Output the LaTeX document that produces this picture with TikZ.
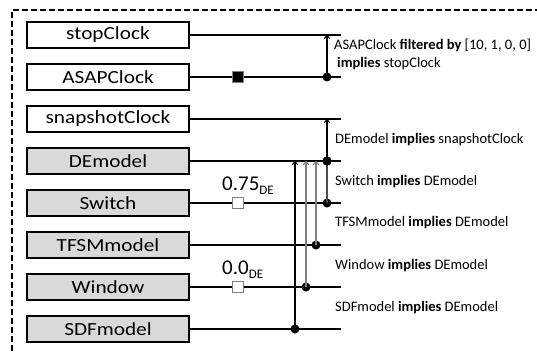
\documentclass[tikz,border=0pt]{standalone}
\usepackage{fontspec}
\setmainfont{Carlito}
\newfontfamily\boxfont{Carlito}[FakeStretch=1.15]
\usetikzlibrary{arrows.meta}
\begin{document}
\begin{tikzpicture}[x=1pt,y=-1pt,
 blk/.style={draw, line width=1.4pt, minimum width=162pt, minimum height=26pt, inner sep=0pt, font=\boxfont\fontsize{18.5}{20}\selectfont},
 wbox/.style={blk, fill=white},
 gbox/.style={blk, fill=gray!30},
 wire/.style={line width=1.2pt},
 dotn/.style={circle, fill=black, inner sep=0pt, minimum size=9pt},
 imp/.style={line width=1.1pt, -{To[length=4pt,width=6pt]}},
 lab/.style={anchor=west, font=\fontsize{14.5}{18}\selectfont, inner sep=0pt, align=left},
 wlab/.style={anchor=base west, inner sep=0pt, font=\fontsize{21}{22}\selectfont},
 wsq/.style={draw=gray, fill=white, line width=1.4pt, minimum size=11pt, inner sep=0pt},
 fsq/.style={draw=gray, fill=black, line width=1.4pt, minimum size=11pt, inner sep=0pt},
]
\useasboundingbox (0,0) rectangle (537,351);
\draw[dash pattern=on 6pt off 3pt, line width=1.3pt] (12,351) -- (12,10) -- (537,10);
% boxes
\node[wbox] (stop) at (108,35) {stopClock};
\node[wbox] (asap) at (108,77) {ASAPClock};
\node[wbox] (snap) at (108,119) {snapshotClock};
\node[gbox] (de) at (108,161) {DEmodel};
\node[gbox] (sw) at (108,203) {Switch};
\node[gbox] (tfsm) at (108,245) {TFSMmodel};
\node[gbox] (win) at (108,287) {Window};
\node[gbox] (sdf) at (108,329) {SDFmodel};
% wire ends
\coordinate (stopE) at (341,35);
\coordinate (asapE) at (341,77);
\coordinate (snapE) at (341,119);
\coordinate (deE) at (341,161);
\coordinate (swE) at (341,203);
\coordinate (tfsmE) at (341,245);
\coordinate (winE) at (341,287);
\coordinate (sdfE) at (341,329);
\draw[wire] (stop.east) -- (stopE);
\draw[wire] (asap.east) -- (asapE);
\draw[wire] (snap.east) -- (snapE);
\draw[wire] (de.east) -- (deE);
\draw[wire] (sw.east) -- (swE);
\draw[wire] (tfsm.east) -- (tfsmE);
\draw[wire] (win.east) -- (winE);
\draw[wire] (sdf.east) -- (sdfE);
% filters
\node[fsq] (fasap) at (238,77) {};
\node[wsq] (fsw) at (238,203) {};
\node[wsq] (fwin) at (238,287) {};
\node[wlab] (wsw) at (222,190) {0.75\raisebox{-4pt}{\fontsize{13}{13}\selectfont DE}};
\node[wlab] (wwin) at (222,274) {0.0\raisebox{-4pt}{\fontsize{13}{13}\selectfont DE}};
% targets
\coordinate (t1) at (327,35);
\coordinate (t2) at (327,119);
\coordinate (t3) at (327,161);
\coordinate (t4) at (316,161);
\coordinate (t5) at (306,161);
\coordinate (t6) at (295,161);
% dots
\node[dotn] (d1) at (327,77) {};
\node[dotn] (d2) at (327,161) {};
\node[dotn] (d3) at (327,203) {};
\node[dotn] (d4) at (316,245) {};
\node[dotn] (d5) at (306,287) {};
\node[dotn] (d6) at (295,329) {};
% arrows
\draw[imp] (d1.center) -- (t1);
\draw[imp] (d2.center) -- (t2);
\draw[imp, draw=black!70] (d3.center) -- (t3);
\draw[imp, draw=black!50] (d4.center) -- (t4);
\draw[imp, draw=black!50] (d5.center) -- (t5);
\draw[imp] (d6.center) -- (t6);
\node[dotn] at (d2) {};
% labels
\node[lab] (l1) at (334,54) {ASAPClock \textbf{filtered by} [10, 1, 0, 0]\\ \hspace{3pt}\textbf{implies} stopClock};
\node[lab] (l2) at (335,140) {DEmodel \textbf{implies} snapshotClock};
\node[lab] (l3) at (335,182) {Switch \textbf{implies} DEmodel};
\node[lab] (l4) at (335,223) {TFSMmodel \textbf{implies} DEmodel};
\node[lab] (l5) at (335,266) {Window \textbf{implies} DEmodel};
\node[lab] (l6) at (335,308) {SDFmodel \textbf{implies} DEmodel};
\end{tikzpicture}
\end{document}
